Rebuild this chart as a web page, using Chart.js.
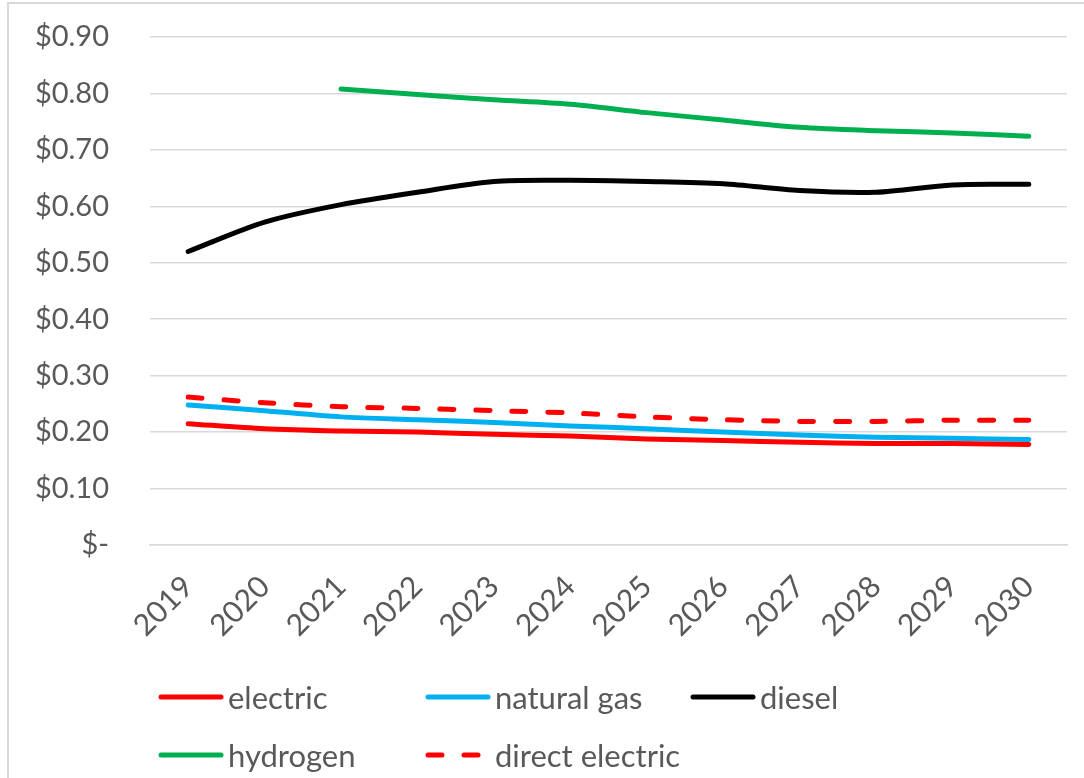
<!DOCTYPE html>
<html>
<head>
<meta charset="utf-8">
<script src="https://cdn.jsdelivr.net/npm/chart.js@4.4.1/dist/chart.umd.min.js"></script>
<style>
  html, body { margin: 0; padding: 0; background: #ffffff; }
  #wrap { position: relative; width: 1084px; height: 778px; overflow: hidden; }
  #frame { position: absolute; left: 7px; top: 2px; right: -10px; bottom: -10px;
           border-left: 2px solid #d9d9d9; border-top: 2px solid #d9d9d9; }
  #chart { position: absolute; left: 0; top: 0; }
  .lg { position: absolute; display: flex; align-items: center;
        font-family: Lato, "Open Sans", sans-serif; font-size: 31px; color: #595959; white-space: nowrap; }
  .lg svg { margin-right: 4px; }
</style>
</head>
<body>
<div id="wrap">
  <div id="frame"></div>
  <canvas id="chart" width="1084" height="778"></canvas>
  <div id="legend"></div>
</div>
<script>
// Years on the category axis
const years = ['2019','2020','2021','2022','2023','2024','2025','2026','2027','2028','2029','2030'];

// Cost per mile, $ (hydrogen starts in 2021)
const electric       = [0.215, 0.206, 0.202, 0.200, 0.196, 0.193, 0.188, 0.185, 0.182, 0.180, 0.180, 0.178];
const naturalGas     = [0.248, 0.238, 0.227, 0.222, 0.217, 0.211, 0.206, 0.200, 0.195, 0.191, 0.189, 0.187];
const diesel         = [0.520, 0.572, 0.603, 0.625, 0.644, 0.646, 0.644, 0.640, 0.628, 0.625, 0.638, 0.639];
const hydrogen       = [null, null, 0.808, 0.798, 0.789, 0.781, 0.766, 0.753, 0.740, 0.734, 0.730, 0.724];
const directElectric = [0.262, 0.252, 0.245, 0.242, 0.238, 0.234, 0.227, 0.222, 0.219, 0.219, 0.221, 0.221];

// Value axis ticks
const yMin = 0, yMax = 0.9, yStep = 0.1;

const TEXT = '#595959';
const GRID = '#d9d9d9';
const FONT = 'Lato, "Open Sans", sans-serif';

function series(label, data, color, dash) {
  return {
    label, data,
    borderColor: color, backgroundColor: color,
    borderWidth: 5,
    borderDash: dash || [],
    borderCapStyle: 'round',
    borderJoinStyle: 'round',
    pointRadius: 0, pointHoverRadius: 0,
    tension: 0.3,
    spanGaps: false,
    fill: false
  };
}

const datasets = [
  series('electric', electric, '#ff0000'),
  series('natural gas', naturalGas, '#00b0f0'),
  series('diesel', diesel, '#000000'),
  series('hydrogen', hydrogen, '#00b050'),
  series('direct electric', directElectric, '#ff0000', [14, 22])
];

const chart = new Chart(document.getElementById('chart'), {
  type: 'line',
  data: { labels: years, datasets },
  options: {
    responsive: false,
    animation: false,
    devicePixelRatio: 1,
    layout: { padding: { top: 37, right: 17, left: 0, bottom: 0 } },
    plugins: { legend: { display: false }, tooltip: { enabled: false } },
    scales: {
      x: {
        offset: true,
        grid: { display: false, drawTicks: false },
        border: { display: true, color: GRID, width: 1.5 },
        ticks: {
          color: TEXT, font: { family: FONT, size: 30 },
          minRotation: 45, maxRotation: 45, padding: 24, autoSkip: false
        },
        afterFit(scale) { scale.height = 233; }
      },
      y: {
        min: yMin, max: yMax,
        // invisible tick marks keep the labels clear of the plot
        grid: { color: GRID, lineWidth: 1.5, drawTicks: true, tickLength: 41, tickColor: 'rgba(0,0,0,0)' },
        border: { display: false },
        ticks: {
          stepSize: yStep, padding: 0,
          color: TEXT, font: { family: FONT, size: 29 },
          callback: v => Math.abs(v) < 1e-9 ? '$-' : '$' + Number(v).toFixed(2)
        },
        afterFit(scale) { scale.width = 150; }
      }
    }
  }
});

// Legend laid out in a two-row grid under the plot
const legendSlots = [
  { x: 158, y: 697 }, { x: 425, y: 697 }, { x: 690, y: 697 },
  { x: 158, y: 755 }, { x: 425, y: 755 }
];
const legend = document.getElementById('legend');
chart.data.datasets.forEach((ds, i) => {
  const slot = legendSlots[i];
  const item = document.createElement('div');
  item.className = 'lg';
  item.style.left = slot.x + 'px';
  item.style.top = (slot.y - 20) + 'px';
  item.style.height = '40px';
  const dash = ds.borderDash && ds.borderDash.length ? 'stroke-dasharray="14 22"' : '';
  item.innerHTML =
    '<svg width="66" height="10"><line x1="3" y1="5" x2="63" y2="5" stroke="' + ds.borderColor +
    '" stroke-width="5" stroke-linecap="round" ' + dash + '/></svg><span>' + ds.label + '</span>';
  legend.appendChild(item);
});
</script>
</body>
</html>
